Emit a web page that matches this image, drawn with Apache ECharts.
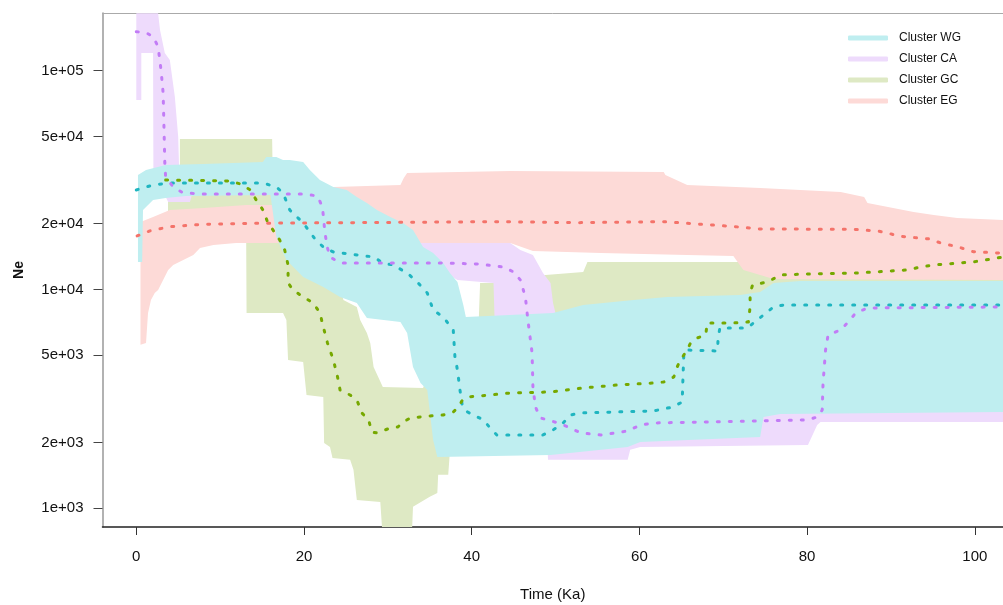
<!DOCTYPE html>
<html>
<head>
<meta charset="utf-8">
<script src="https://cdn.jsdelivr.net/npm/echarts@6/dist/echarts.min.js"></script>
<style>
  html, body { margin: 0; padding: 0; background: #fff; }
  #chart { width: 1003px; height: 605px; }
</style>
</head>
<body>
<div id="chart"></div>
<script>
    // ===== tick labels =====
    var xTicks = [0, 20, 40, 60, 80, 100];
    var yTicks = [1000, 2000, 5000, 10000, 20000, 50000, 100000];

    // ===== median Ne, [time (Ka), Ne] =====
    var wgLine = [[0,28500],[2.0,30040],[4.0,30670],[15.1,30670],[16.7,29410],[17.5,27610],[18.3,23090],[19.9,20140],[21.4,16840],[22.3,15640],[23.5,14840],[28.3,14080],[29.4,13220],[30.6,12940],[32.3,11900],[33.5,10820],[34.7,9640],[35.4,8060],[36.6,7490],[37.8,6530],[38.0,4914],[38.3,4286],[38.6,3472],[38.9,2904],[39.5,2754],[41.4,2533],[42.2,2328],[43.0,2163],[48.5,2163],[49.7,2280],[50.9,2454],[51.8,2670],[53.0,2727],[61.7,2785],[64.0,2904],[65.1,3061],[65.2,4000],[65.3,5127],[65.5,5290],[69.3,5236],[69.4,6067],[69.6,6670],[72.9,6670],[73.6,7030],[74.8,7645],[76.0,8318],[77.2,8494],[103.4,8494]];
    var caLine = [[0,150750],[1.16,149200],[2.0,143000],[2.6,128700],[2.95,100700],[3.2,79070],[3.3,55300],[3.4,37870],[3.5,32680],[4.4,29410],[5.6,27610],[8.0,27320],[19.9,27320],[21.6,26750],[22.2,23830],[22.5,18130],[22.8,15480],[23.1,14080],[24.3,13220],[36.2,13220],[40.7,13080],[43.8,12670],[45.0,12020],[45.8,11050],[46.4,9240],[46.7,7255],[47.2,5127],[47.3,3584],[47.6,2904],[48.2,2587],[50.3,2454],[51.5,2353],[53.0,2209],[55.4,2163],[58.6,2256],[60.1,2403],[61.7,2454],[80.1,2533],[81.2,2615],[81.8,2814],[81.9,3738],[82.2,5290],[82.5,6195],[84.0,6530],[84.8,7030],[85.8,7810],[87.2,8230],[103.4,8318]];
    var gcLine = [[3.5,31660],[11.2,31330],[12.4,30350],[13.6,28500],[14.3,25650],[15.1,23090],[15.7,20140],[16.3,18700],[17.1,16840],[17.7,15150],[18.1,12930],[18.1,10710],[18.7,9950],[19.9,9240],[21.1,8677],[21.9,7810],[22.3,6740],[22.8,5696],[23.5,4763],[24.0,3983],[24.3,3472],[25.5,3294],[26.3,3126],[26.9,2727],[27.7,2533],[28.1,2232],[28.7,2209],[30.3,2328],[31.2,2353],[31.8,2480],[32.7,2587],[35.0,2642],[36.6,2670],[37.8,2754],[38.4,2904],[38.9,3126],[39.5,3227],[42.2,3294],[44.6,3365],[49.4,3400],[53.3,3546],[57.4,3660],[61.7,3738],[62.9,3778],[64.1,3981],[64.5,4424],[64.9,4763],[65.7,5290],[66.1,5696],[66.9,6002],[67.9,6195],[68.1,7030],[71.2,7030],[73.0,7100],[73.2,8318],[73.2,9640],[73.5,10490],[75.3,10820],[76.8,11650],[80.0,11770],[86.0,11900],[92.0,12280],[93.5,12670],[95.1,12940],[99.8,13360],[103.4,14080]];
    var egLine = [[0.1,17560],[1.6,18510],[4.0,19360],[8.0,19860],[13.9,20070],[43.4,20410],[52.6,20200],[62.9,20410],[65.7,20070],[71.2,19400],[74.4,18900],[85.5,18840],[86.7,18700],[88.4,18510],[89.6,18130],[90.8,17560],[93.2,17200],[94.7,17010],[95.9,16310],[97.9,15690],[99.8,14890],[103.4,14640]];

    // ===== 95% bands, upper and lower edges =====
    var wgUpper = [[0.2,33370],[1.16,35170],[3.5,37070],[8.0,37460],[15.1,38260],[15.5,40330],[16.7,40330],[17.5,39080],[18.3,39080],[19.9,38260],[20.7,35170],[21.9,31660],[23.5,29410],[25.1,28500],[26.3,26480],[27.5,24850],[28.7,23090],[30.3,21450],[31.8,20140],[33.0,18710],[33.5,17380],[34.2,15640],[35.4,14690],[36.6,13220],[37.4,11900],[38.3,10820],[39.0,8494],[39.3,7490],[49.7,7810],[53.3,8494],[59.3,8954],[63.3,9240],[72.0,9440],[74.4,9740],[76.0,10710],[79.2,10940],[103.4,10940]];
    var wgLower = [[0.2,13360],[0.7,13360],[0.8,23090],[2.0,25650],[3.5,26190],[5.9,26760],[16.0,27040],[16.7,17380],[17.9,13640],[19.9,11410],[22.3,10270],[24.3,9240],[26.3,8677],[27.5,7410],[31.5,7100],[32.3,6327],[33.0,4424],[33.9,3738],[34.7,3472],[35.4,2052],[35.9,1716],[49.4,1752],[58.6,1906],[60.1,2009],[74.4,2118],[74.8,2615],[76.8,2698],[103.4,2754]];
    var caUpper = [[0,183000],[2.6,183000],[2.83,153500],[3.4,120500],[4.0,111900],[4.6,75840],[5.0,49780],[5.1,36310],[6.4,35170],[19.5,35170],[21.9,30040],[23.5,28500],[33.9,16310],[44.6,16310],[45.8,15150],[47.3,14380],[48.5,11900],[49.4,10710],[49.7,8677],[50.1,7490],[55.4,6530],[103.4,6530]];
    var caLower = [[0,73450],[0.6,73450],[0.6,120500],[2.0,120500],[2.05,26500],[3.5,26500],[3.8,25120],[6.4,25120],[6.7,27640],[16.0,27640],[19.5,18710],[24.3,13640],[36.3,12270],[38.3,11050],[42.6,10710],[42.8,5875],[48.8,3130],[49.1,1664],[58.6,1664],[58.9,1849],[60.1,1906],[80.1,1945],[81.2,2401],[81.6,2477],[103.4,2477]];
    var gcUpper = [[3.78,35170],[5.2,35170],[5.2,48730],[16.2,48730],[16.25,37070],[18.3,35170],[19.9,25650],[24.3,10490],[24.7,8954],[26.3,8318],[26.7,7255],[27.5,6327],[27.9,5696],[28.3,4424],[29.4,3584],[34.2,3546],[35.4,4763],[40.8,6530],[41.0,10710],[42.6,10710],[48.8,11650],[53.3,12020],[53.8,13360],[103.4,13360]];
    var gcLower = [[3.78,18710],[13.1,18710],[13.15,7810],[17.5,7810],[17.9,7255],[18.1,4763],[19.9,4664],[20.3,3294],[22.3,3227],[22.4,1989],[23.1,1906],[23.4,1698],[25.5,1664],[25.9,1498],[26.3,1092],[29.1,1069],[29.3,822],[32.9,822],[33.0,1015],[35.0,1128],[35.9,1175],[36.0,1421],[37.2,1421],[37.5,2051],[74.4,2280],[74.8,3126],[103.4,3126]];
    var egUpper = [[0.5,20350],[2.0,21450],[4.0,23090],[8.0,23580],[13.1,24340],[19.5,24340],[21.9,28500],[23.5,29410],[31.5,30040],[31.9,32330],[32.3,34080],[44.6,34800],[62.9,34440],[63.1,33370],[65.7,30040],[74.4,29100],[84.0,27900],[86.8,26480],[87.2,24850],[92.7,22610],[95.1,21900],[97.9,21230],[103.4,20780]];
    var egLower = [[0.5,5583],[1.16,5696],[1.4,7810],[1.75,8954],[2.2,9640],[2.6,9950],[3.2,11050],[3.8,12280],[4.4,12940],[5.6,13640],[6.8,14380],[7.6,15480],[9.2,15970],[11.9,16310],[44.6,16310],[47.3,15000],[55.4,14690],[65.7,14380],[71.2,14230],[72.4,12280],[76.0,11170],[103.4,11050]];

    var font = 'Liberation Sans, Arial, Helvetica, sans-serif';

    function bandSeries(name, color, upper, lower) {
        var poly = upper.concat(lower.slice().reverse());
        return {
            name: name,
            type: 'custom',
            coordinateSystem: 'cartesian2d',
            silent: true,
            z: 1,
            itemStyle: { color: color },
            data: poly,
            encode: { x: 0, y: 1 },
            renderItem: function (params, api) {
                if (params.dataIndex !== 0) return null;
                var pts = poly.map(function (p) { return api.coord(p); });
                return { type: 'polygon', shape: { points: pts }, style: { fill: color } };
            }
        };
    }

    function medianSeries(name, color, pts) {
        return {
            name: name,
            type: 'line',
            data: pts,
            symbol: 'none',
            silent: true,
            z: 3,
            lineStyle: { color: color, width: 3, type: [2, 10], cap: 'round', join: 'round' }
        };
    }

    var chart = echarts.init(document.getElementById('chart'));
    chart.setOption({
        animation: false,
        backgroundColor: '#fff',
        grid: { left: 102.5, right: 0, top: 13, bottom: 78, containLabel: false, outerBoundsMode: 'none' },
        legend: {
            data: ['Cluster WG', 'Cluster CA', 'Cluster GC', 'Cluster EG'],
            orient: 'vertical',
            left: 843,
            top: 26,
            icon: 'roundRect',
            itemWidth: 40,
            itemHeight: 5,
            itemGap: 7,
            textStyle: { fontSize: 12, lineHeight: 14, color: '#111', fontFamily: font, padding: [0, 0, 0, 6] }
        },
        xAxis: [{
            type: 'value',
            min: -4.03,
            max: 103.36,
            name: 'Time (Ka)',
            nameLocation: 'middle',
            nameGap: 60,
            nameTextStyle: { fontSize: 15, color: '#111', fontFamily: font },
            axisLine: { show: true, onZero: false, lineStyle: { color: '#222', width: 1.5 } },
            axisTick: { show: true, length: 8, lineStyle: { color: '#333' }, customValues: xTicks },
            axisLabel: { customValues: xTicks, fontSize: 15, color: '#111', margin: 22, fontFamily: font },
            splitLine: { show: false }
        }, {
            type: 'value',
            position: 'top',
            min: -4.03,
            max: 103.36,
            axisLine: { show: true, onZero: false, lineStyle: { color: '#aaa', width: 1 } },
            axisTick: { show: false },
            axisLabel: { show: false },
            splitLine: { show: false }
        }],
        yAxis: {
            type: 'log',
            logBase: 10,
            min: 821,
            max: 183500,
            name: 'Ne',
            nameLocation: 'middle',
            nameGap: 76,
            nameTextStyle: { fontSize: 14, fontWeight: 'bold', color: '#111', fontFamily: font },
            axisLine: { show: true, onZero: false, lineStyle: { color: '#999', width: 1.5 } },
            axisTick: { show: true, length: 9, lineStyle: { color: '#444' }, customValues: yTicks },
            axisLabel: {
                customValues: yTicks,
                fontSize: 15,
                color: '#111',
                margin: 19,
                fontFamily: font,
                formatter: function (v) {
                    var e = Math.floor(Math.log10(v) + 1e-9);
                    var m = Math.round(v / Math.pow(10, e));
                    return m + 'e+' + (e < 10 ? '0' : '') + e;
                }
            },
            splitLine: { show: false }
        },
        series: [
            bandSeries('Cluster GC', '#dee9c4', gcUpper, gcLower),
            bandSeries('Cluster CA', '#eedbfc', caUpper, caLower),
            bandSeries('Cluster EG', '#fddad7', egUpper, egLower),
            bandSeries('Cluster WG', '#bfeef0', wgUpper, wgLower),
            medianSeries('WG median', '#1fb5c0', wgLine),
            medianSeries('CA median', '#c27cf6', caLine),
            medianSeries('GC median', '#76a800', gcLine),
            medianSeries('EG median', '#f4736a', egLine)
        ]
    });
</script>
</body>
</html>
